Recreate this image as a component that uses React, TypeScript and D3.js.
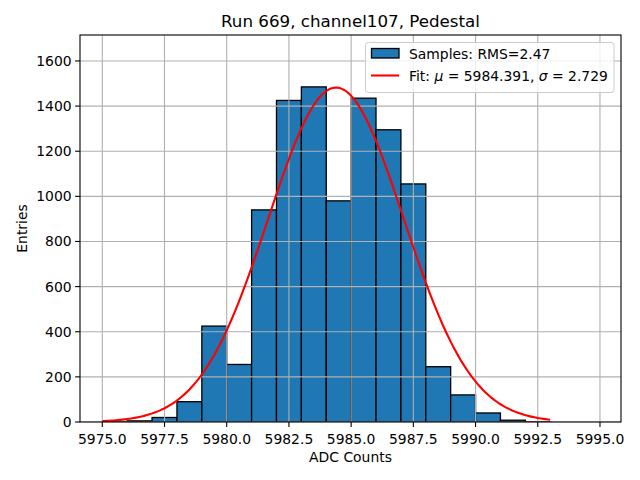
import React from "react";
import * as d3 from "d3";

const binEdgesStart: number[] = [5975, 5976, 5977, 5978, 5979, 5980, 5981, 5982, 5983, 5984, 5985, 5986, 5987, 5988, 5989, 5990, 5991, 5992];
const counts: number[] = [1, 5, 20, 90, 425, 255, 940, 1425, 1485, 980, 1435, 1295, 1055, 245, 120, 40, 8, 1];
const xTicks: number[] = [5975, 5977.5, 5980, 5982.5, 5985, 5987.5, 5990, 5992.5, 5995];
const yTicks: number[] = [0, 200, 400, 600, 800, 1000, 1200, 1400, 1600];
const fitMu = 5984.391;
const fitSigma = 2.729;
const fitAmp = 1482;
const fitRange: number[] = [5975, 5993];

const W = 640, H = 480;
const L = 80, R = 621, T = 35, B = 422;
const font = "DejaVu Sans, sans-serif";

export default function App() {
  const x = d3.scaleLinear().domain([5974.104, 5995.845]).range([L, R]);
  const y = d3.scaleLinear().domain([0, 1715]).range([B, T]);
  const gauss = (v: number) => fitAmp * Math.exp(-0.5 * ((v - fitMu) / fitSigma) ** 2);
  const pts = d3.range(0, 201).map(i => fitRange[0] + (fitRange[1] - fitRange[0]) * i / 200);
  const line = d3.line<number>().x(d => x(d)).y(d => y(gauss(d)));
  return (
    <svg width={W} height={H} style={{ position: "absolute", left: 0, top: 0 }} fontFamily={font}>
      <rect width={W} height={H} fill="white" />
      <clipPath id="clip"><rect x={L} y={T} width={R - L} height={B - T} /></clipPath>
      <g clipPath="url(#clip)">
        {binEdgesStart.map((s, i) => (
          <rect key={i} x={x(s)} y={y(counts[i])} width={x(s + 1) - x(s)} height={B - y(counts[i])}
            fill="#1f77b4" stroke="black" strokeWidth={1.3} />
        ))}
        {xTicks.map(t => <line key={"gx" + t} x1={x(t)} x2={x(t)} y1={T} y2={B} stroke="#b0b0b0" strokeWidth={1.1} />)}
        {yTicks.map(t => <line key={"gy" + t} x1={L} x2={R} y1={y(t)} y2={y(t)} stroke="#b0b0b0" strokeWidth={1.1} />)}
        <path d={line(pts) || ""} fill="none" stroke="red" strokeWidth={2.1} />
      </g>
      <rect x={L} y={T} width={R - L} height={B - T} fill="none" stroke="black" strokeWidth={1.1} />
      {xTicks.map(t => (
        <g key={"tx" + t}>
          <line x1={x(t)} x2={x(t)} y1={B} y2={B + 4.9} stroke="black" strokeWidth={1.1} />
          <text x={x(t)} y={B + 18} fontSize={13.9} textAnchor="middle" dominantBaseline="middle">{t.toFixed(1)}</text>
        </g>
      ))}
      {yTicks.map(t => (
        <g key={"ty" + t}>
          <line x1={L - 4.9} x2={L} y1={y(t)} y2={y(t)} stroke="black" strokeWidth={1.1} />
          <text x={L - 8.4} y={y(t)} fontSize={13.9} textAnchor="end" dominantBaseline="central">{t}</text>
        </g>
      ))}
      <text x={(L + R) / 2} y={462} fontSize={13.9} textAnchor="middle">ADC Counts</text>
      <text transform={`translate(27,${(T + B) / 2}) rotate(-90)`} fontSize={13.9} textAnchor="middle">Entries</text>
      <text x={(L + R) / 2} y={27} fontSize={16.7} textAnchor="middle">Run 669, channel107, Pedestal</text>
      <g>
        <rect x={365.5} y={42.5} width={248.5} height={50} rx={3} fill="white" fillOpacity={0.8} stroke="#cccccc" strokeWidth={1} />
        <rect x={371.5} y={48.5} width={27.5} height={9.5} fill="#1f77b4" stroke="black" strokeWidth={1.3} />
        <text x={409} y={59} fontSize={13.9}>Samples: RMS=2.47</text>
        <line x1={371} x2={399} y1={75.5} y2={75.5} stroke="red" strokeWidth={2.1} />
        <text x={409} y={81} fontSize={13.9}>Fit: <tspan fontStyle="italic">μ</tspan> = 5984.391, <tspan fontStyle="italic">σ</tspan> = 2.729</text>
      </g>
    </svg>
  );
}
